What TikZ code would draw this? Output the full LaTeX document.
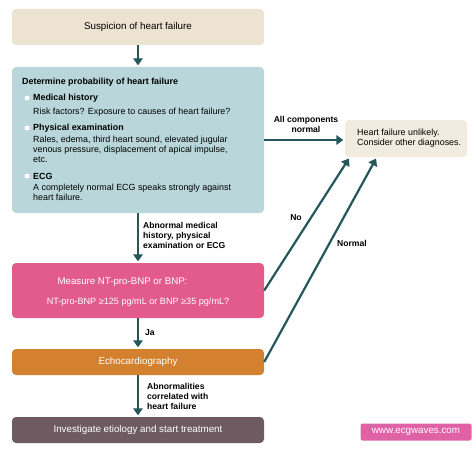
\documentclass[tikz,border=0pt]{standalone}
\usepackage{fontspec}
\setmainfont{Liberation Sans}
\usetikzlibrary{arrows.meta}
\definecolor{sand}{HTML}{EDE3D2}
\definecolor{sandlight}{HTML}{F2EBDF}
\definecolor{seafoam}{HTML}{B9D7DA}
\definecolor{rosepink}{HTML}{E35B8B}
\definecolor{ochre}{HTML}{D4812F}
\definecolor{mauve}{HTML}{6E5B62}
\definecolor{webpink}{HTML}{DF62A6}
\definecolor{arrowteal}{HTML}{24565A}

\begin{document}
\begin{tikzpicture}[x=1pt,y=-1pt,
  box/.style={rounded corners=4pt, minimum width=252pt, inner sep=0pt, font=\fontsize{9.8}{11}\selectfont},
  txt/.style={inner sep=0pt, align=left, font=\fontsize{8.9}{9.8}\selectfont},
  head/.style={txt, font=\fontsize{8.9}{9.8}\selectfont\bfseries},
  lbl/.style={inner sep=0pt, align=left, font=\fontsize{8.6}{10}\selectfont\bfseries},
  dot/.style={circle, fill=white, minimum size=5pt, inner sep=0pt},
  arr/.style={line width=2.2pt, draw=arrowteal, shorten >=1.5pt, -{Triangle[width=9.5pt,length=7pt]}}]
\useasboundingbox (0,0) rectangle (474,452);
\node[box, fill=sand, minimum height=36pt] (suspicion) at (138,27) {Suspicion of heart failure};
\node[box, fill=seafoam, minimum height=146pt] (prob) at (138,140) {};
\node[box, fill=rosepink, minimum height=55pt] (bnp) at (138,290.5) {};
\node[box, fill=ochre, text=white, minimum height=26pt] (echo) at (138,362) {Echocardiography};
\node[box, fill=mauve, text=white, minimum height=26pt] (treat) at (138,430) {Investigate etiology and start treatment};
\node[box, fill=sandlight, minimum width=122pt, minimum height=37pt] (unlikely) at (406,138.5) {};
\node[fill=webpink, text=white, rounded corners=2pt, minimum width=111pt, minimum height=17pt, inner sep=0pt, font=\fontsize{9.8}{11}\selectfont] (web) at (416,432) {www.ecgwaves.com};

\node[head, anchor=west] (probtitle) at (22,82) {Determine probability of heart failure};
\node[dot] (dot1) at (27,98) {};
\node[dot] (dot2) at (27,128) {};
\node[dot] (dot3) at (27,176) {};
\node[head, anchor=west] (history) at (33,98) {Medical history};
\node[txt, anchor=west] (historytxt) at (33,112) {Risk factors? Exposure to causes of heart failure?};
\node[head, anchor=west] (exam) at (33,128) {Physical examination};
\node[txt, anchor=west] (examtxt) at (33,149.5) {Rales, edema, third heart sound, elevated jugular\\venous pressure, displacement of apical impulse,\\etc.};
\node[head, anchor=west] (ecg) at (33,176) {ECG};
\node[txt, anchor=west] (ecgtxt) at (33,192.5) {A completely normal ECG speaks strongly against\\heart failure.};

\node[inner sep=0pt, text=white, font=\fontsize{9.7}{11}\selectfont] (bnptitle) at (122.5,282) {Measure NT-pro-BNP or BNP:};
\node[inner sep=0pt, text=white, font=\fontsize{9.1}{10}\selectfont] (bnptxt) at (138,302) {NT-pro-BNP ≥125 pg/mL or BNP ≥35 pg/mL?};
\node[txt, anchor=west] (unlikelytxt) at (357,138) {Heart failure unlikely.\\Consider other diagnoses.};

\node[lbl, align=center] (allnormal) at (306,124) {All components\\normal};
\node[lbl, anchor=west] (abnormal) at (143,235) {Abnormal medical\\history, physical\\examination or ECG};
\node[lbl, anchor=west] (ja) at (145,333) {Ja};
\node[lbl, anchor=west] (correlated) at (147,396) {Abnormalities\\correlated with\\heart failure};
\node[lbl] (no) at (296,218) {No};
\node[lbl] (normal) at (352,243) {Normal};

\draw[arr] (suspicion) -- (prob);
\draw[arr] (prob) -- (bnp);
\draw[arr] (bnp) -- (echo);
\draw[arr] (echo) -- (treat);
\draw[arr] (prob.east) -- (prob.east -| unlikely.west);
\draw[arr] (bnp.east) -- ([xshift=5pt]unlikely.south west);
\draw[arr] (echo.east) -- ([xshift=32pt]unlikely.south west);
\end{tikzpicture}
\end{document}
